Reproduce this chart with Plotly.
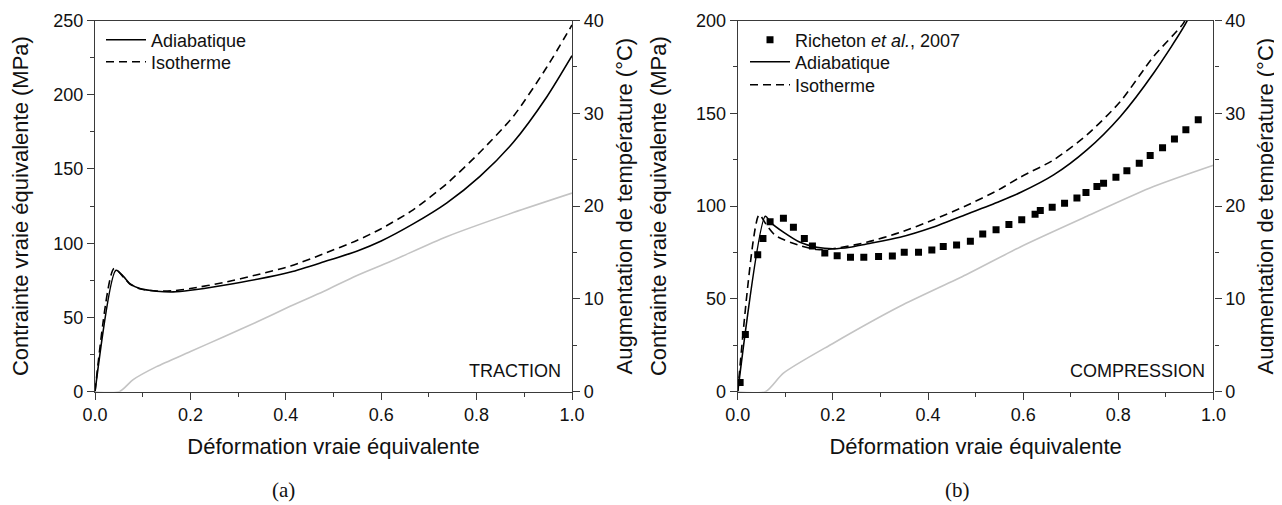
import plotly.graph_objects as go

# ---- (a) traction ----
tr_adiab_x = [0, 0.044, 0.06, 0.073, 0.094, 0.129, 0.164, 0.2, 0.27, 0.34, 0.41, 0.48, 0.55, 0.6, 0.667, 0.737, 0.807, 0.877, 0.947, 1.0]
tr_adiab_y = [0, 81.8, 77.5, 72.8, 69.5, 67.7, 67.2, 68.3, 71.7, 75.7, 80.6, 87.5, 94.8, 101.5, 113.0, 127.0, 145.0, 168.0, 198.5, 226.3]
tr_iso_x = [0, 0.04, 0.06, 0.073, 0.094, 0.129, 0.164, 0.2, 0.27, 0.34, 0.41, 0.48, 0.55, 0.6, 0.667, 0.737, 0.807, 0.877, 0.947, 1.0]
tr_iso_y = [0, 83.0, 77.0, 72.5, 69.3, 67.8, 68.0, 69.5, 73.5, 78.8, 84.6, 93.0, 102.0, 109.8, 122.5, 140.0, 161.3, 185.5, 218.5, 247.0]
tr_temp_x = [0, 0.051, 0.08, 0.129, 0.199, 0.269, 0.339, 0.409, 0.479, 0.548, 0.618, 0.737, 0.877, 1.0]
tr_temp_y = [0, 0, 1.3, 2.7, 4.3, 5.9, 7.5, 9.2, 10.8, 12.5, 14.0, 16.7, 19.3, 21.4]

# ---- (b) compression ----
co_adiab_x = [0, 0.058, 0.07, 0.096, 0.131, 0.166, 0.2, 0.236, 0.271, 0.341, 0.41, 0.48, 0.55, 0.594, 0.664, 0.734, 0.804, 0.874, 0.944, 0.96]
co_adiab_y = [0, 94.5, 91.0, 86.0, 80.5, 77.8, 77.0, 77.8, 79.6, 83.2, 88.6, 95.5, 102.5, 107.3, 116.8, 130.3, 148.2, 171.6, 199.5, 210]
co_iso_x = [0, 0.045, 0.06, 0.08, 0.131, 0.166, 0.2, 0.271, 0.341, 0.41, 0.48, 0.55, 0.594, 0.664, 0.734, 0.804, 0.874, 0.937, 0.95]
co_iso_y = [0, 95.3, 90.0, 84.0, 78.7, 76.6, 77.0, 80.5, 85.8, 92.5, 100.2, 109.0, 115.6, 124.9, 138.4, 156.3, 180.6, 198.6, 206]
co_temp_x = [0, 0.058, 0.096, 0.2, 0.341, 0.48, 0.594, 0.734, 0.874, 1.0]
co_temp_y = [0, 0, 2.0, 5.2, 9.2, 12.6, 15.6, 18.9, 22.1, 24.4]
rich_x = [0.005, 0.016, 0.042, 0.053, 0.068, 0.096, 0.117, 0.140, 0.157, 0.183, 0.209, 0.237, 0.265, 0.296,
          0.325, 0.350, 0.380, 0.408, 0.432, 0.460, 0.489, 0.515, 0.543, 0.570, 0.597, 0.625, 0.636, 0.661,
          0.687, 0.713, 0.732, 0.755, 0.769, 0.795, 0.818, 0.844, 0.867, 0.893, 0.918, 0.942, 0.968]
rich_y = [5.0, 30.8, 73.8, 82.6, 91.6, 93.4, 88.6, 82.6, 78.5, 74.7, 73.3, 72.4, 72.4, 72.9,
          73.1, 75.1, 75.1, 76.4, 78.2, 79.1, 81.0, 85.0, 87.2, 90.1, 92.6, 95.6, 97.6, 99.4,
          101.6, 104.3, 107.3, 110.5, 112.3, 115.6, 119.1, 123.1, 127.2, 131.5, 136.2, 141.1, 146.5]

FONT = "Arial, Liberation Sans, sans-serif"
SERIF = "Liberation Serif, DejaVu Serif, serif"
AX = "#3a3a3a"
BLK = "#000000"
GRAY = "#c4c4c4"
LW = 1.6
DASH = "8px,5px"
SMOOTH = 0.7

# page has an 8px body margin, so the figure is 8px smaller than the window
W, H = 1274, 497

fig = go.Figure()

# panel a
fig.add_trace(go.Scatter(x=tr_adiab_x, y=tr_adiab_y, mode="lines", name="Adiabatique",
                         line=dict(color=BLK, width=LW, shape="spline", smoothing=SMOOTH),
                         xaxis="x", yaxis="y", legend="legend"))
fig.add_trace(go.Scatter(x=tr_iso_x, y=tr_iso_y, mode="lines", name="Isotherme",
                         line=dict(color=BLK, width=LW, dash=DASH, shape="spline", smoothing=SMOOTH),
                         xaxis="x", yaxis="y", legend="legend2"))
fig.add_trace(go.Scatter(x=tr_temp_x, y=tr_temp_y, mode="lines", showlegend=False,
                         line=dict(color=GRAY, width=LW, shape="spline", smoothing=SMOOTH),
                         xaxis="x", yaxis="y2"))

# panel b
fig.add_trace(go.Scatter(x=rich_x, y=rich_y, mode="markers", name="Richeton <i>et al.</i>, 2007",
                         marker=dict(symbol="square", size=7, color=BLK), xaxis="x2", yaxis="y3", legend="legend3"))
fig.add_trace(go.Scatter(x=co_adiab_x, y=co_adiab_y, mode="lines", name="Adiabatique",
                         line=dict(color=BLK, width=LW, shape="spline", smoothing=SMOOTH),
                         xaxis="x2", yaxis="y3", legend="legend4"))
fig.add_trace(go.Scatter(x=co_iso_x, y=co_iso_y, mode="lines", name="Isotherme",
                         line=dict(color=BLK, width=LW, dash=DASH, shape="spline", smoothing=SMOOTH),
                         xaxis="x2", yaxis="y3", legend="legend5"))
fig.add_trace(go.Scatter(x=co_temp_x, y=co_temp_y, mode="lines", showlegend=False,
                         line=dict(color=GRAY, width=LW, shape="spline", smoothing=SMOOTH),
                         xaxis="x2", yaxis="y4"))

tickfont = dict(family=FONT, size=18, color="#111")
titlefont = dict(family=FONT, size=22, color="#111")
ydom = [0.228, 0.9748]


def xax(dom, anchor):
    return dict(domain=dom, anchor=anchor, range=[0, 1], dtick=0.2, tickformat=".1f",
                ticks="outside", ticklen=7, tickwidth=1.3, tickcolor=AX, automargin=False,
                minor=dict(ticks="outside", ticklen=4, dtick=0.1, tickcolor=AX, tickwidth=1.3),
                showline=True, linecolor=AX, linewidth=1.3, mirror=True,
                showgrid=False, zeroline=False, tickfont=tickfont,
                title=dict(text="Déformation vraie équivalente", font=titlefont, standoff=14))


def yax(rng, dt, mdt, anchor, side, title, standoff, overlaying=None):
    d = dict(domain=ydom, anchor=anchor, side=side, range=rng, dtick=dt, automargin=False,
             ticks="outside", ticklen=7, tickwidth=1.3, tickcolor=AX,
             minor=dict(ticks="outside", ticklen=4, dtick=mdt, tickcolor=AX, tickwidth=1.3),
             showline=True, linecolor=AX, linewidth=1.3,
             showgrid=False, zeroline=False, tickfont=tickfont,
             title=dict(text=title, font=titlefont, standoff=standoff))
    if overlaying:
        d["overlaying"] = overlaying
    return d


def leg(x, y):
    return dict(x=x, y=y, xanchor="left", yanchor="middle", bgcolor="rgba(0,0,0,0)",
                font=dict(family=FONT, size=18, color="#111"), itemwidth=40)


YL = "Contrainte vraie équivalente (MPa)"
YR = "Augmentation de température (°C)"

fig.update_layout(
    width=W, height=H,
    margin=dict(l=0, r=0, t=0, b=0),
    paper_bgcolor="white", plot_bgcolor="white",
    font=dict(family=FONT, size=18, color="#111"),
    xaxis=xax([0.0683, 0.4427], "y"),
    xaxis2=xax([0.5728, 0.9462], "y3"),
    yaxis=yax([0, 250], 50, 25, "x", "left", YL, 23),
    yaxis2=yax([0, 40], 10, 5, "x", "right", YR, 13, overlaying="y"),
    yaxis3=yax([0, 200], 50, 25, "x2", "left", YL, 23),
    yaxis4=yax([0, 40], 10, 5, "x2", "right", YR, 13, overlaying="y3"),
    legend=leg(0.0730, 0.9356),
    legend2=leg(0.0730, 0.8913),
    legend3=leg(0.5785, 0.9356),
    legend4=leg(0.5785, 0.8913),
    legend5=leg(0.5785, 0.8451),
    annotations=[
        dict(text="TRACTION", xref="x domain", yref="y domain", x=0.982, y=0.056,
             xanchor="right", yanchor="middle", showarrow=False, font=dict(family=FONT, size=18, color="#111")),
        dict(text="COMPRESSION", xref="x2 domain", yref="y3 domain", x=0.986, y=0.056,
             xanchor="right", yanchor="middle", showarrow=False, font=dict(family=FONT, size=18, color="#111")),
        dict(text="(a)", xref="paper", yref="paper", x=0.2159, y=0.03, xanchor="center", yanchor="middle",
             showarrow=False, font=dict(family=SERIF, size=21, color="#111")),
        dict(text="(b)", xref="paper", yref="paper", x=0.7449, y=0.03, xanchor="center", yanchor="middle",
             showarrow=False, font=dict(family=SERIF, size=21, color="#111")),
    ],
)

fig.write_html("out.html")
